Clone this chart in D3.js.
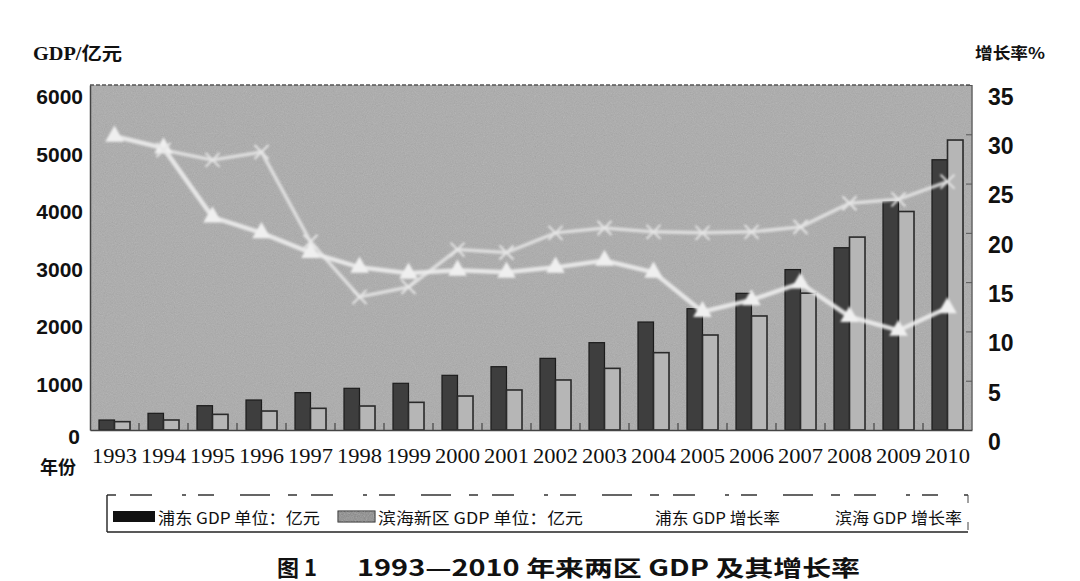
<!DOCTYPE html>
<html><head><meta charset="utf-8">
<script src="https://cdn.jsdelivr.net/npm/d3@7/dist/d3.min.js"></script>
<style>html,body{margin:0;padding:0;background:#fff;}</style>
</head><body>
<svg id="c" width="1080" height="581"></svg>
<script>
const years = ["1993","1994","1995","1996","1997","1998","1999","2000","2001","2002","2003","2004","2005","2006","2007","2008","2009","2010"];
const pudongGDP = [174,290,423,522,650,725,812,951,1101,1246,1519,1878,2110,2377,2790,3170,3970,4700];
const binhaiGDP = [145,174,272,330,377,417,481,591,696,870,1072,1345,1652,1983,2380,3355,3800,5043];
const pudongRate = [29.8,28.6,21.6,20.0,18.0,16.5,15.9,16.2,16.0,16.5,17.2,16.0,12.0,13.2,14.9,11.5,10.1,12.4];
const binhaiRate = [null,28.4,27.4,28.2,19.1,13.5,14.5,18.3,18.0,20.0,20.5,20.1,20.0,20.1,20.6,23.0,23.4,25.2];
const leftTicks = [0,1000,2000,3000,4000,5000,6000];
const rightTicks = [0,5,10,15,20,25,30,35];
const legendLabels = ["浦东 GDP 单位：亿元","滨海新区 GDP 单位：亿元","浦东 GDP 增长率","滨海 GDP 增长率"];
const titleA = "图 1";
const titleB = "1993—2010 年来两区 GDP 及其增长率";
const leftTitle = "GDP/亿元";
const rightTitle = "增长率%";
const xTitle = "年份";

const svg = d3.select("#c");
const L = 90, R = 972, T = 85, B = 430;

const defs = svg.append("defs");
const f = defs.append("filter").attr("id","noise").attr("x",0).attr("y",0).attr("width","100%").attr("height","100%");
f.append("feTurbulence").attr("type","fractalNoise").attr("baseFrequency","0.9").attr("numOctaves",2).attr("seed",4);
f.append("feColorMatrix").attr("type","saturate").attr("values","0");
const glow = defs.append("filter").attr("id","glow").attr("x","-10%").attr("y","-10%").attr("width","120%").attr("height","120%");
glow.append("feGaussianBlur").attr("stdDeviation",0.8);

const x = d3.scaleBand().domain(years).range([L, R]).paddingInner(0).paddingOuter(0);
const xs = d3.scaleBand().domain(["pd","bh"]).range([0, x.bandwidth()]).paddingOuter(0.58).paddingInner(0);
const yL = d3.scaleLinear().domain([0,6000]).range([B, T]);
const yR = d3.scaleLinear().domain([0,35]).range([B, T]);

// plot background
svg.append("rect").attr("x",L).attr("y",T).attr("width",R-L).attr("height",B-T).attr("fill","#ababab");
svg.append("rect").attr("x",L).attr("y",T).attr("width",R-L).attr("height",B-T).attr("filter","url(#noise)").attr("opacity",0.28);

// bars
const g = svg.append("g");
g.selectAll("rect.pd").data(years).join("rect").attr("class","pd")
  .attr("x", d => x(d) + xs("pd")).attr("width", xs.bandwidth())
  .attr("y", (d,i) => yL(pudongGDP[i])).attr("height", (d,i) => B - yL(pudongGDP[i]))
  .attr("fill","#3e3e3e").attr("stroke","#1c1c1c").attr("stroke-width",1.2);
g.selectAll("rect.bh").data(years).join("rect").attr("class","bh")
  .attr("x", d => x(d) + xs("bh")).attr("width", xs.bandwidth())
  .attr("y", (d,i) => yL(binhaiGDP[i])).attr("height", (d,i) => B - yL(binhaiGDP[i]))
  .attr("fill","#b6b6b6").attr("stroke","#2a2a2a").attr("stroke-width",1.6);

// frame
svg.append("line").attr("x1",L).attr("x2",R).attr("y1",T).attr("y2",T).attr("stroke","#555").attr("stroke-width",1.5).attr("stroke-dasharray","4,2");
svg.append("line").attr("x1",R).attr("x2",R).attr("y1",T).attr("y2",B).attr("stroke","#666").attr("stroke-width",1.5);

// x tick marks at band boundaries
svg.append("g").selectAll("line").data(years.slice(1)).join("line")
  .attr("x1", d => x(d)).attr("x2", d => x(d)).attr("y1", B).attr("y2", B-7)
  .attr("stroke","#444").attr("stroke-width",1.2);

// axes
const axL = svg.append("g").attr("transform",`translate(${L},0)`)
  .call(d3.axisLeft(yL).tickValues(leftTicks).tickSize(0).tickPadding(7).tickFormat(d3.format("d")));
axL.select(".domain").attr("stroke","#444").attr("stroke-width",1.5);
axL.selectAll("text").attr("font-family","'Liberation Sans',Arial,sans-serif").attr("font-weight","bold")
  .attr("font-size",21).attr("fill","#111").attr("transform", d => d===0 ? "translate(-3,7)" : "translate(0,12)");

const axR = svg.append("g").attr("transform",`translate(${R},0)`)
  .call(d3.axisRight(yR).tickValues(rightTicks).tickSizeInner(-6).tickSizeOuter(0).tickPadding(16));
axR.select(".domain").remove();
axR.selectAll("line").attr("stroke","#555");
axR.selectAll("text").attr("font-family","'Liberation Sans',Arial,sans-serif").attr("font-weight","bold")
  .attr("font-size",23).attr("fill","#111").attr("transform","translate(0,12)");

const axB = svg.append("g").attr("transform",`translate(0,${B})`)
  .call(d3.axisBottom(x).tickSize(0).tickPadding(17));
axB.select(".domain").attr("stroke","#444").attr("stroke-width",1.5);
axB.selectAll("text").attr("font-family","'Liberation Serif','Times New Roman',serif")
  .attr("font-size",22).attr("fill","#111").attr("textLength",45).attr("lengthAdjust","spacingAndGlyphs");

// lines
const cx = d => x(d) + x.bandwidth()/2;
const linePd = d3.line().defined(d => d.v != null).x(d => cx(d.y)).y(d => yR(d.v));
const pdData = years.map((y,i) => ({y, v: pudongRate[i]}));
const bhData = years.map((y,i) => ({y, v: binhaiRate[i]}));
const lg = svg.append("g").attr("filter","url(#glow)");
lg.append("path").datum(bhData).attr("d", linePd).attr("fill","none").attr("stroke","#e6e6e6").attr("stroke-width",3.5).attr("opacity",0.85);
lg.append("path").datum(pdData).attr("d", linePd).attr("fill","none").attr("stroke","#ececec").attr("stroke-width",4.5).attr("opacity",0.92);
lg.selectAll("path.tri").data(pdData).join("path").attr("class","tri")
  .attr("d", d3.symbol(d3.symbolTriangle, 150)())
  .attr("transform", d => `translate(${cx(d.y)},${yR(d.v)})`).attr("fill","#efefef");
const crossPath = "M-7,-7L7,7M-7,7L7,-7";
lg.selectAll("path.crs").data(bhData.filter(d => d.v != null)).join("path").attr("class","crs")
  .attr("d", crossPath).attr("transform", d => `translate(${cx(d.y)},${yR(d.v)})`)
  .attr("stroke","#e6e6e6").attr("stroke-width",2).attr("fill","none");

// titles
svg.append("text").attr("x",33).attr("y",60).text(leftTitle)
  .attr("font-family","'Liberation Serif','Noto Sans CJK SC',serif").attr("font-weight","bold").attr("font-size",18)
  .attr("textLength",89).attr("lengthAdjust","spacingAndGlyphs").attr("fill","#111");
svg.append("text").attr("x",975).attr("y",59).text(rightTitle)
  .attr("font-family","'Noto Sans CJK SC',sans-serif").attr("font-weight","bold").attr("font-size",16)
  .attr("textLength",70).attr("lengthAdjust","spacingAndGlyphs").attr("fill","#111");
svg.append("text").attr("x",40).attr("y",474).text(xTitle)
  .attr("font-family","'Noto Sans CJK SC',sans-serif").attr("font-weight","bold").attr("font-size",18)
  .attr("fill","#111");

// legend
const leg = svg.append("g");
leg.append("line").attr("x1",107).attr("x2",968).attr("y1",495).attr("y2",495).attr("stroke","#333").attr("stroke-width",1.4).attr("stroke-dasharray","9,14,22,30,4,12,16,26,30,18");
leg.append("line").attr("x1",107).attr("x2",968).attr("y1",532).attr("y2",532).attr("stroke","#222").attr("stroke-width",1.4);
leg.append("line").attr("x1",107).attr("x2",107).attr("y1",495).attr("y2",532).attr("stroke","#222").attr("stroke-width",1.4);
leg.append("line").attr("x1",968).attr("x2",968).attr("y1",495).attr("y2",503).attr("stroke","#444").attr("stroke-width",1);
leg.append("line").attr("x1",968).attr("x2",968).attr("y1",522).attr("y2",530).attr("stroke","#444").attr("stroke-width",1);
leg.append("rect").attr("x",113).attr("y",511).attr("width",42).attr("height",11).attr("fill","#111");
leg.append("rect").attr("x",338).attr("y",511).attr("width",37).attr("height",11).attr("fill","#8a8a8a").attr("stroke","#222").attr("stroke-width",1);
leg.append("rect").attr("x",338).attr("y",511).attr("width",37).attr("height",11).attr("filter","url(#noise)").attr("opacity",0.5);
const legX = [158,378,655,835];
const legW = [162,205,125,127];
leg.selectAll("text").data(legendLabels).join("text")
  .attr("x",(d,i)=>legX[i]).attr("y",524).text(d=>d)
  .attr("font-family","'Noto Sans CJK SC',sans-serif").attr("font-size",16).attr("fill","#111")
  .attr("textLength",(d,i)=>legW[i]).attr("lengthAdjust","spacingAndGlyphs");

svg.append("text").attr("x",277).attr("y",576).text(titleA)
  .attr("font-family","'Noto Sans CJK SC',sans-serif").attr("font-weight","bold").attr("font-size",22)
  .attr("fill","#111");
svg.append("text").attr("x",357).attr("y",576).text(titleB)
  .attr("font-family","'Noto Sans CJK SC',sans-serif").attr("font-weight","bold").attr("font-size",22)
  .attr("textLength",503).attr("lengthAdjust","spacingAndGlyphs").attr("fill","#111");
</script>
</body></html>
